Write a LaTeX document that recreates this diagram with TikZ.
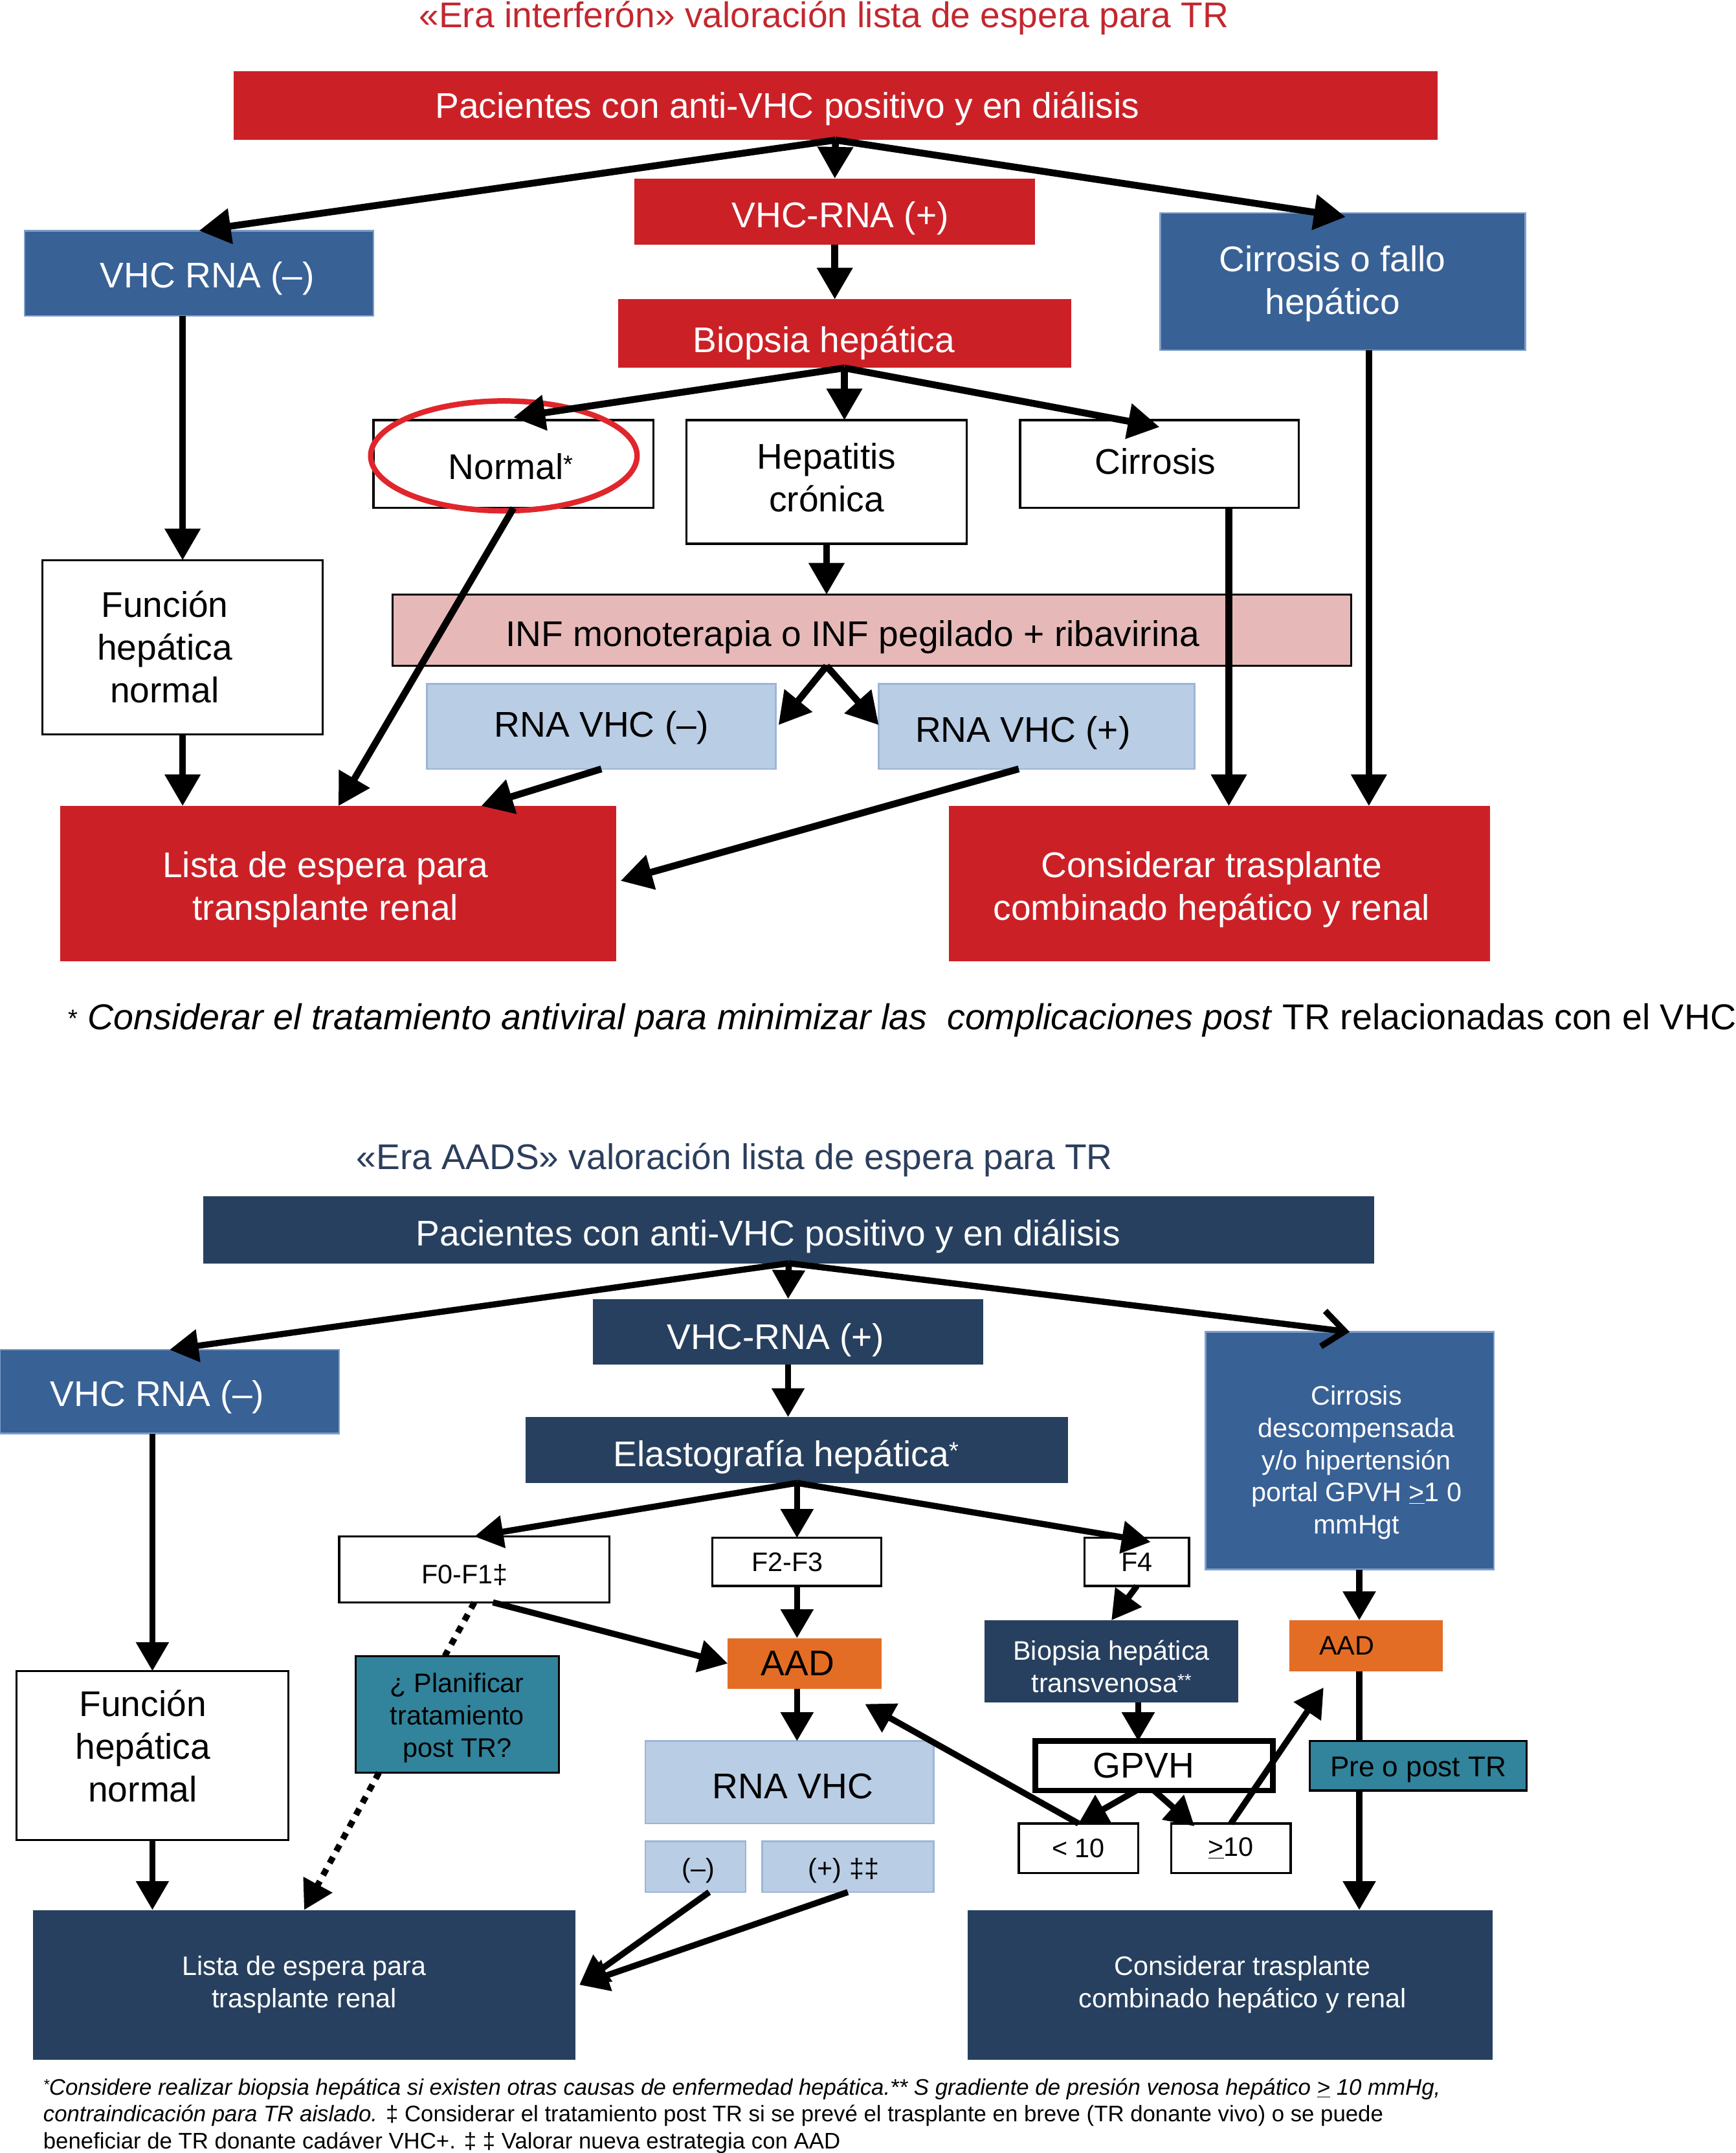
\documentclass[tikz,border=0pt]{standalone}
\usepackage{fontspec}
\setmainfont{Liberation Sans}
\usetikzlibrary{arrows.meta,calc,shapes.geometric}
\definecolor{cred}{HTML}{CC2027}
\definecolor{ctitle}{HTML}{C3272F}
\definecolor{cring}{HTML}{E0262C}
\definecolor{cblue}{HTML}{386196}
\definecolor{cblueb}{HTML}{7F9FC9}
\definecolor{cnavy}{HTML}{27405F}
\definecolor{cnavyt}{HTML}{2C3E5C}
\definecolor{cpink}{HTML}{E6B9B8}
\definecolor{clblue}{HTML}{B9CDE5}
\definecolor{clblueb}{HTML}{9DB5D6}
\definecolor{corange}{HTML}{E46D25}
\definecolor{cteal}{HTML}{31849B}
\newcommand\fsz[2]{\fontsize{#1}{#2}\selectfont}
\newcommand\vsh[2]{\raisebox{-#1pt}[\height][\depth]{#2}}
\newcommand\mlc[1]{\begin{tabular}{@{}c@{}}#1\end{tabular}}
\begin{document}
\begin{tikzpicture}[x=1pt,y=-1pt,
  box/.style={rectangle,inner sep=0pt,outer sep=0pt,align=center},
  redbox/.style={box,fill=cred,text=white},
  bluebox/.style={box,fill=cblue,draw=cblueb,line width=1.2,text=white},
  navybox/.style={box,fill=cnavy,text=white},
  whitebox/.style={box,fill=white,draw=black,line width=1.5,text=black},
  lbox/.style={box,fill=clblue,draw=clblueb,line width=1.2,text=black},
  arr/.style={line width=5,-{Triangle[length=23,width=25]}},
  arrs/.style={line width=4.5,-{Triangle[length=21,width=23]}},
  big/.style={font=\fsz{26}{31}},
  small/.style={font=\fsz{19.5}{23.5}},
]
\useasboundingbox (0,0) rectangle (1264,1568);
\fill[white] (0,0) rectangle (1264,1568);

% ---------------- top section ----------------
\node[font=\fsz{26}{31},text=ctitle] (t_title) at (600,13) {«Era interferón» valoración lista de espera para TR};
\node[redbox,big,minimum width=877,minimum height=50] (t_pac) at (608.5,77) {\hspace*{-70pt}\vsh{2}{Pacientes con anti-VHC positivo y en diálisis}};
\node[redbox,big,minimum width=292,minimum height=48] (t_rnap) at (608,154) {\hspace*{8pt}\vsh{5}{VHC-RNA (+)}};
\node[bluebox,big,minimum width=254,minimum height=62] (t_rnan) at (145,199) {\hspace*{12pt}\vsh{4}{VHC RNA (–)}};
\node[bluebox,big,minimum width=266,minimum height=100] (t_cirf) at (978,205) {\hspace*{-15pt}\vsh{2}{\mlc{Cirrosis o fallo\\hepático}}};
\node[redbox,big,minimum width=330,minimum height=50] (t_bio) at (615,243) {\hspace*{-30pt}\vsh{7}{Biopsia hepática}};
\node[whitebox,big,minimum width=204,minimum height=64] (t_norm) at (374,338) {\hspace*{-4pt}\vsh{2}{Normal\raisebox{5pt}{\fsz{18}{18}*}}};
\node[whitebox,big,minimum width=204,minimum height=90] (t_hep) at (602,351) {\mlc{Hepatitis\\crónica}};
\node[whitebox,big,minimum width=203,minimum height=64] (t_cir) at (844.5,338) {\hspace*{-6pt}\vsh{-2}{Cirrosis}};
\node[whitebox,big,minimum width=204,minimum height=127] (t_fun) at (133,471.5) {\hspace*{-26pt}\vsh{3}{\mlc{Función\\hepática\\normal}}};
\node[box,fill=cpink,draw=black,line width=1.5,big,minimum width=698,minimum height=52] (t_inf) at (635,459) {\hspace*{-28pt}\vsh{5}{INF monoterapia o INF pegilado + ribavirina}};
\node[lbox,big,minimum width=254,minimum height=62] (t_rn) at (438,529) {\vsh{1}{RNA VHC (–)}};
\node[lbox,big,minimum width=230,minimum height=62] (t_rp) at (755,529) {\hspace*{-20pt}\vsh{5}{RNA VHC (+)}};
\node[redbox,big,minimum width=405,minimum height=113] (t_lista) at (246.5,643.5) {\hspace*{-19pt}\vsh{5}{\mlc{Lista de espera para\\transplante renal}}};
\node[redbox,big,minimum width=394,minimum height=113] (t_cons) at (888,643.5) {\hspace*{-11pt}\vsh{5}{\mlc{Considerar trasplante\\combinado hepático y renal}}};
\node[ellipse,draw=cring,line width=4,minimum width=194,minimum height=80,inner sep=0pt] (t_ring) at (367,332) {};
\node[anchor=west,font=\fsz{26.2}{31}] (t_note) at (46,743) {\raisebox{2pt}{\fsz{18}{18}*} \textit{Considerar el tratamiento antiviral para minimizar las\ \ complicaciones post} TR relacionadas con el VHC};

\coordinate (c_cir) at ($(t_cir.south)+(50.5,0)$);
\coordinate (c_cirf) at ($(t_cirf.south)+(19,0)$);

\draw[arr] (t_pac.south) -- (t_rnan.north);
\draw[arr] (t_pac.south) -- (t_rnap.north);
\draw[arr] (t_pac.south) -- ($(t_cirf.north)+(2,3)$);
\draw[arr] (t_rnap.south) -- (t_rnap.south |- t_bio.north);
\draw[arr] (t_bio.south) -- ($(t_norm.north)+(0,-2)$);
\draw[arr] (t_bio.south) -- (t_bio.south |- t_hep.north);
\draw[arr] (t_bio.south) -- ($(t_cir.north)+(0,5)$);
\draw[arr] (t_fun.north |- t_rnan.south) -- (t_fun.north);
\draw[arr] (t_hep.south) -- (t_hep.south |- t_inf.north);
\draw[arr] (t_hep.south |- t_inf.south) -- ($(t_rn.east)+(2,-1)$);
\draw[arr] (t_hep.south |- t_inf.south) -- ($(t_rp.west)+(0,-1)$);
\draw[arr] (t_norm.south) -- (t_lista.north);
\draw[arr] (t_fun.south) -- (t_fun.south |- t_lista.north);
\draw[arr] (t_rn.south) -- ($(t_lista.north)+(104,0)$);
\draw[arr] ($(t_rp.south)+(-13,0)$) -- ($(t_lista.east)+(3,-2)$);
\draw[arr] (c_cir) -- (c_cir |- t_cons.north);
\draw[arr] (c_cirf) -- (c_cirf |- t_cons.north);

% ---------------- bottom section ----------------
\node[font=\fsz{26}{31},text=cnavyt] (b_title) at (535,845) {«Era AADS» valoración lista de espera para TR};
\node[navybox,big,minimum width=853,minimum height=49] (b_pac) at (574.5,895.5) {\hspace*{-30pt}\vsh{5}{Pacientes con anti-VHC positivo y en diálisis}};
\node[navybox,big,minimum width=284,minimum height=48] (b_rnap) at (574,970) {\hspace*{-18pt}\vsh{6}{VHC-RNA (+)}};
\node[bluebox,big,minimum width=247,minimum height=61] (b_rnan) at (123.5,1013.5) {\hspace*{-18pt}\vsh{4}{VHC RNA (–)}};
\node[bluebox,small,minimum width=210,minimum height=173] (b_cird) at (983,1056.5) {\hspace*{10pt}\vsh{9}{\mlc{Cirrosis\\descompensada\\y/o hipertensión\\portal GPVH \underline{>}1 0\\mmHgt}}};
\node[navybox,big,minimum width=395,minimum height=48] (b_elas) at (580.5,1056) {\hspace*{-16pt}\vsh{5}{Elastografía hepática\raisebox{5pt}{\fsz{18}{18}*}}};
\node[whitebox,small,minimum width=197,minimum height=48] (b_f01) at (345.5,1143) {\hspace*{-14pt}\vsh{4}{F0-F1‡}};
\node[whitebox,small,minimum width=123,minimum height=35] (b_f23) at (580.5,1137.5) {\hspace*{-14pt}F2-F3};
\node[whitebox,small,minimum width=76,minimum height=35] (b_f4) at (828,1137.5) {F4};
\node[whitebox,big,minimum width=198,minimum height=123] (b_fun) at (111,1278.5) {\hspace*{-14pt}\vsh{-3.5}{\mlc{Función\\hepática\\normal}}};
\node[box,fill=cteal,draw=black,line width=1.5,small,minimum width=148,minimum height=85] (b_plan) at (333,1248.5) {\vsh{3}{\mlc{¿ Planificar\\tratamiento\\post TR?}}};
\node[box,fill=corange,big,minimum width=112,minimum height=37] (b_aad1) at (586,1211.5) {\hspace*{-10pt}AAD};
\node[lbox,big,minimum width=210,minimum height=60] (b_rna) at (575,1298) {\hspace*{5pt}\vsh{3}{RNA VHC}};
\node[lbox,small,minimum width=73,minimum height=37] (b_neg) at (506.5,1359.5) {\hspace*{4pt}\vsh{3}{(–)}};
\node[lbox,small,minimum width=125,minimum height=37] (b_pos) at (617.5,1359.5) {\hspace*{-6pt}\vsh{3}{(+) ‡‡}};
\node[navybox,small,minimum width=185,minimum height=60] (b_bio) at (809.5,1210) {\vsh{6}{\mlc{Biopsia hepática\\transvenosa\raisebox{4pt}{\fsz{13}{13}**}}}};
\node[box,fill=white,draw=black,line width=4,big,minimum width=173,minimum height=36] (b_gpvh) at (840.5,1286) {\hspace*{-15pt}GPVH};
\node[whitebox,small,minimum width=87,minimum height=36] (b_lt) at (785.5,1346) {< 10};
\node[whitebox,small,minimum width=87,minimum height=36] (b_ge) at (896.5,1346) {\underline{>}10};
\node[box,fill=corange,small,minimum width=112,minimum height=37] (b_aad2) at (995,1198.5) {\hspace*{-28pt}AAD};
\node[navybox,small,minimum width=395,minimum height=109] (b_lista) at (221.5,1445.5) {Lista de espera para\\trasplante renal};
\node[navybox,small,minimum width=382,minimum height=109] (b_cons) at (896,1445.5) {\hspace*{18pt}Considerar trasplante\\\hspace*{18pt}combinado hepático y renal};

\coordinate (c_r) at ($(b_aad2.north)+(-5,0)$);
\coordinate (c_bio) at ($(b_bio.south)+(19.5,0)$);

\draw[arrs] (b_pac.south) -- (b_rnan.north);
\draw[arrs] (b_pac.south) -- (b_rnap.north);
\draw[line width=4.5,-{Straight Barb[length=16,width=26]}] (b_pac.south) -- (b_cird.north);
\draw[arrs] (b_rnap.south) -- (b_rnap.south |- b_elas.north);
\draw[arrs] (b_elas.south) -- (b_f01.north);
\draw[arrs] (b_elas.south) -- (b_f23.north);
\draw[arrs] (b_elas.south) -- ($(b_f4.north)+(10,3)$);
\draw[arrs] (b_fun.north |- b_rnan.south) -- (b_fun.north);
\draw[arrs] (b_fun.south) -- (b_fun.south |- b_lista.north);
\draw[line width=4.5,dash pattern=on 5 off 5] (b_f01.south) -- ($(b_plan.north)+(-9,0)$);
\draw[arrs,dash pattern=on 5 off 5] ($(b_plan.south west)+(17,0)$) -- (b_lista.north);
\draw[arrs] ($(b_f01.south)+(13.5,0)$) -- (b_aad1.west);
\draw[arrs] (b_f23.south) -- (b_f23.south |- b_aad1.north);
\draw[arrs] (b_f23.south |- b_aad1.south) -- (b_f23.south |- b_rna.north);
\draw[arrs] (b_f4.south) -- (b_bio.north);
\draw[arrs] (c_bio) -- (c_bio |- b_gpvh.north);
\draw[arrs] ($(b_gpvh.south)+(-13,0)$) -- (b_lt.north);
\draw[arrs] (b_gpvh.south) -- ($(b_ge.north west)+(17,2)$);
\draw[arrs] (b_lt.north) -- ($(b_aad1.south east)+(-12,11)$);
\draw[arrs] (b_ge.north) -- ($(b_aad2.south west)+(25,12)$);
\draw[arrs] (c_r |- b_cird.south) -- (c_r);
\draw[arrs] (c_r |- b_aad2.south) -- (c_r |- b_cons.north);
\draw[arrs] ($(b_neg.south)+(10,0)$) -- ($(b_lista.east)+(3,0)$);
\draw[arrs] (b_pos.south) -- ($(b_lista.east)+(3,0)$);

\node[box,fill=cteal,draw=black,line width=1.5,font=\fsz{20.8}{24},minimum width=158,minimum height=36] (b_pre) at (1033,1286) {\vsh{3}{Pre o post TR}};

\node[anchor=west,font=\fsz{16.4}{19.5},align=left] (b_note) at (28,1541) {\textit{\raisebox{4pt}{\fsz{11}{11}*}Considere realizar biopsia hepática si existen otras causas de enfermedad hepática.** S gradiente de presión venosa hepático \underline{>} 10 mmHg,}\\
\textit{contraindicación para TR aislado.} ‡ Considerar el tratamiento post TR si se prevé el trasplante en breve (TR donante vivo) o se puede\\
beneficiar de TR donante cadáver VHC+. ‡ ‡ Valorar nueva estrategia con AAD};
\end{tikzpicture}
\end{document}
